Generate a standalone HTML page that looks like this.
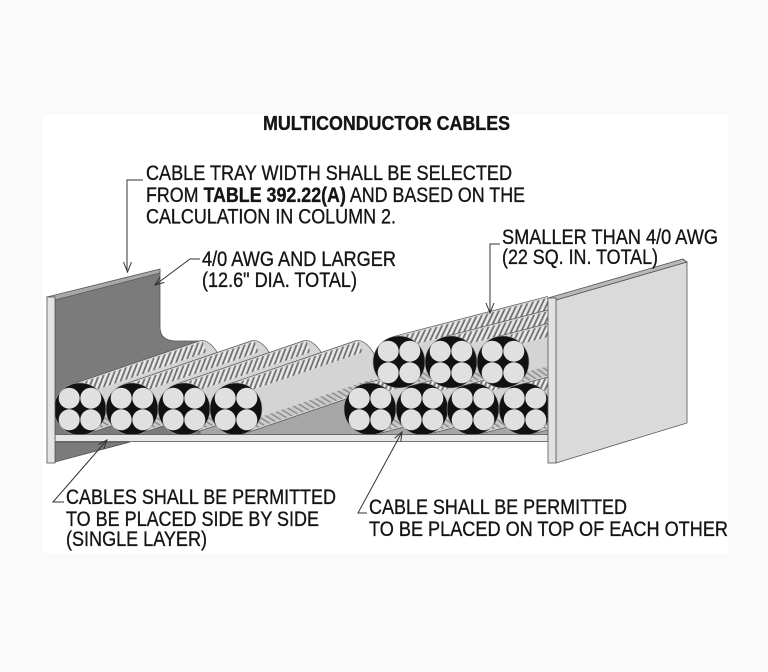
<!DOCTYPE html>
<html>
<head>
<meta charset="utf-8">
<style>
html,body{margin:0;padding:0;background:#fafafa;}
svg{display:block;}
text{font-family:"Liberation Sans",Arial,sans-serif;fill:#151515;stroke:#151515;stroke-width:0.35;}
</style>
</head>
<body>
<svg width="768" height="672" viewBox="0 0 768 672" xmlns="http://www.w3.org/2000/svg">
<defs>
  <pattern id="st" width="4.5" height="20" patternUnits="userSpaceOnUse" patternTransform="rotate(40)">
    <rect width="4.5" height="20" fill="#dcdcdc"/>
    <rect x="0" width="1.7" height="20" fill="#6e6e6e"/>
    <rect x="2.3" width="0.9" height="20" fill="#f6f6f6"/>
  </pattern>
  <pattern id="st2" width="4.5" height="20" patternUnits="userSpaceOnUse" patternTransform="rotate(-40)">
    <rect width="4.5" height="20" fill="#cacaca"/>
    <rect x="0" width="1.3" height="20" fill="#858585"/>
  </pattern>
  <g id="bodyL">
    <path d="M0,-26 H135 A14 26 0 0 1 135,26 H0 Z" fill="#d4d4d4" stroke="#555" stroke-width="0.7"/>
    <rect x="0" y="-24.5" width="138" height="11.5" fill="url(#st)"/>
    <rect x="0" y="15.5" width="138" height="9" fill="url(#st2)"/>
  </g>
  <g id="bodyR">
    <path d="M0,-26 H230 A14 26 0 0 1 230,26 H0 Z" fill="#d4d4d4" stroke="#555" stroke-width="0.7"/>
    <rect x="0" y="-24.5" width="233" height="11.5" fill="url(#st)"/>
    <rect x="0" y="15.5" width="233" height="9" fill="url(#st2)"/>
  </g>
  <g id="cf">
    <circle r="26" fill="#111" stroke="#9a9a9a" stroke-width="0.6"/>
    <circle cx="-10.8" cy="-10.8" r="10.5" fill="#e0e0e0"/>
    <circle cx="10.8" cy="-10.8" r="10.5" fill="#e0e0e0"/>
    <circle cx="-10.8" cy="10.8" r="10.5" fill="#e0e0e0"/>
    <circle cx="10.8" cy="10.8" r="10.5" fill="#e0e0e0"/>
  </g>
  <clipPath id="clipR"><rect x="0" y="0" width="548" height="672"/></clipPath>
</defs>

<!-- white panel -->
<rect x="43" y="115" width="685" height="438" fill="#ffffff"/>

<!-- floor -->
<rect x="55" y="395" width="493" height="40" fill="#a6a6a6"/>

<!-- left wall panel -->
<path d="M55,299 L160,271 L160,327 Q160,341 176,341 L200,341 L200,435 L55,435 Z" fill="#7b7b7b" stroke="#555" stroke-width="0.8"/>
<path d="M47,297 L160,269 L160,273 L55,300 Z" fill="#a8a8a8" stroke="#555" stroke-width="0.8"/>

<!-- left group cables -->
<use href="#bodyL" transform="translate(80,409) rotate(-18.8)"/>
<use href="#cf" transform="translate(80,409)"/>
<use href="#bodyL" transform="translate(132,409) rotate(-18.8)"/>
<use href="#cf" transform="translate(132,409)"/>
<use href="#bodyL" transform="translate(184,409) rotate(-18.8)"/>
<use href="#cf" transform="translate(184,409)"/>
<use href="#bodyL" transform="translate(236,409) rotate(-18.8)"/>
<use href="#cf" transform="translate(236,409)"/>

<!-- right group cables -->
<g clip-path="url(#clipR)">
  <use href="#bodyR" transform="translate(370,409) rotate(-14.6)"/>
  <use href="#bodyR" transform="translate(422,409) rotate(-14.6)"/>
  <use href="#bodyR" transform="translate(473,409) rotate(-14.6)"/>
  <use href="#bodyR" transform="translate(525,409) rotate(-14.6)"/>
</g>
<use href="#cf" transform="translate(370,409)"/>
<use href="#cf" transform="translate(422,409)"/>
<use href="#cf" transform="translate(473,409)"/>
<use href="#cf" transform="translate(525,409)"/>
<g clip-path="url(#clipR)">
  <use href="#bodyR" transform="translate(399,362) rotate(-14.6)"/>
  <use href="#bodyR" transform="translate(451,362) rotate(-14.6)"/>
  <use href="#bodyR" transform="translate(503,362) rotate(-14.6)"/>
</g>
<use href="#cf" transform="translate(399,362)"/>
<use href="#cf" transform="translate(451,362)"/>
<use href="#cf" transform="translate(503,362)"/>

<!-- bottom lip -->
<rect x="55" y="434.5" width="493" height="7" fill="#e6e6e6" stroke="#555" stroke-width="0.8"/>
<path d="M55,442 L130,442 L55,462 Z" fill="#7b7b7b" stroke="#555" stroke-width="0.8"/>

<!-- left front strip -->
<rect x="47" y="297" width="8" height="166" fill="#e4e4e4" stroke="#555" stroke-width="0.8"/>

<!-- right wall -->
<path d="M556,300 L687,262 L687,423 L556,463 Z" fill="#dadada" stroke="#555" stroke-width="0.8"/>
<path d="M548,298 L683,259 L687,262 L556,300 Z" fill="#b8b8b8" stroke="#555" stroke-width="0.8"/>
<rect x="548" y="298" width="8" height="165" fill="#e2e2e2" stroke="#555" stroke-width="0.8"/>

<!-- leaders -->
<g stroke="#333" stroke-width="1" fill="none">
  <path d="M143,180 H127 V271"/>
  <path d="M123.5,262 L127.5,272 L131.5,262"/>
  <path d="M200,259 H190 L155,285"/>
  <path d="M164.3,282.4 L155,285 L160.1,276.8"/>
  <path d="M500,244 H490 V312"/>
  <path d="M486,303 L490,313 L494,303"/>
  <path d="M64,502 H53 L107,440"/>
  <path d="M103.7,449.1 L107,440 L98.5,444.5"/>
  <path d="M367,513 H358 L402,432"/>
  <path d="M400.8,441.6 L402,432 L394.6,438.2"/>
</g>

<!-- text -->
<text x="263" y="130" font-size="20" font-weight="bold" textLength="247" lengthAdjust="spacingAndGlyphs">MULTICONDUCTOR CABLES</text>

<text x="146" y="180" font-size="21" textLength="366" lengthAdjust="spacingAndGlyphs">CABLE TRAY WIDTH SHALL BE SELECTED</text>
<text x="146" y="202" font-size="21" textLength="379" lengthAdjust="spacingAndGlyphs">FROM <tspan font-weight="bold">TABLE 392.22(A)</tspan> AND BASED ON THE</text>
<text x="146" y="223.5" font-size="21" textLength="250" lengthAdjust="spacingAndGlyphs">CALCULATION IN COLUMN 2.</text>

<text x="202" y="266" font-size="21" textLength="194" lengthAdjust="spacingAndGlyphs">4/0 AWG AND LARGER</text>
<text x="202" y="287" font-size="21" textLength="155" lengthAdjust="spacingAndGlyphs">(12.6" DIA. TOTAL)</text>

<text x="502" y="244" font-size="21" textLength="216" lengthAdjust="spacingAndGlyphs">SMALLER THAN 4/0 AWG</text>
<text x="502" y="264" font-size="21" textLength="156" lengthAdjust="spacingAndGlyphs">(22 SQ. IN. TOTAL)</text>

<text x="66" y="504" font-size="21" textLength="270" lengthAdjust="spacingAndGlyphs">CABLES SHALL BE PERMITTED</text>
<text x="66" y="526" font-size="21" textLength="253" lengthAdjust="spacingAndGlyphs">TO BE PLACED SIDE BY SIDE</text>
<text x="66" y="546" font-size="21" textLength="141" lengthAdjust="spacingAndGlyphs">(SINGLE LAYER)</text>

<text x="369" y="514" font-size="21" textLength="258" lengthAdjust="spacingAndGlyphs">CABLE SHALL BE PERMITTED</text>
<text x="369" y="536" font-size="21" textLength="359" lengthAdjust="spacingAndGlyphs">TO BE PLACED ON TOP OF EACH OTHER</text>
</svg>
</body>
</html>
